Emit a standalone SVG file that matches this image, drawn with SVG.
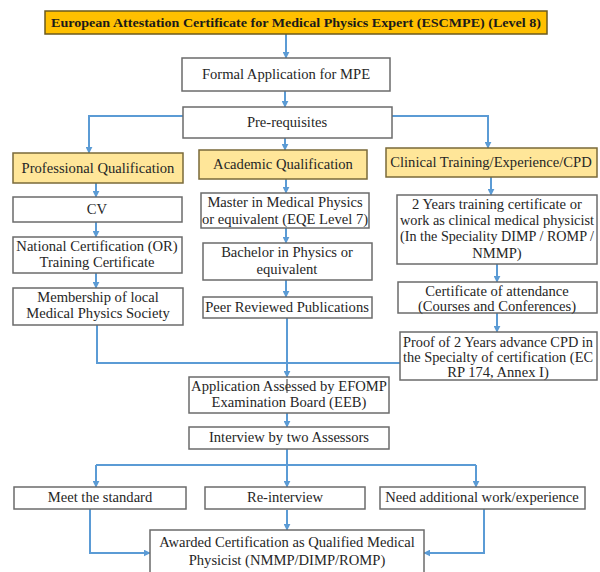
<svg xmlns="http://www.w3.org/2000/svg" width="600" height="572" viewBox="0 0 600 572">
  <defs>
    <marker id="arrow" viewBox="0 0 10 10" refX="9" refY="5" markerWidth="7" markerHeight="7" markerUnits="userSpaceOnUse" orient="auto">
      <path d="M0,0 L10,5 L0,10 z" fill="#5B9BD5"/>
    </marker>
    <style>
      .box { fill: #ffffff; stroke: #6b6b6b; stroke-width: 1.5; }
      .head { fill: #FFC000; stroke: #6b5a1e; stroke-width: 1.5; }
      .cat { fill: #FFE699; stroke: #7a6a3a; stroke-width: 1.5; }
      .t { font-family: "Liberation Serif", "Times New Roman", serif; font-size: 14.6px; fill: #262626; text-anchor: middle; }
      .tb { font-family: "Liberation Serif", "Times New Roman", serif; font-size: 13.5px; font-weight: bold; fill: #1a1a1a; text-anchor: middle; }
      .c { fill: none; stroke: #5B9BD5; stroke-width: 2; }
      .ca { fill: none; stroke: #5B9BD5; stroke-width: 2; marker-end: url(#arrow); }
    </style>
  </defs>

  <rect width="600" height="572" fill="#ffffff"/>

  <!-- connectors -->
  <g id="connectors">
    <line class="ca" x1="286" y1="34" x2="286" y2="58"/>
    <line class="ca" x1="285" y1="91" x2="285" y2="107"/>
    <polyline class="ca" points="183,116 89,116 89,153"/>
    <polyline class="ca" points="392,116 488,116 488,148"/>
    <line class="ca" x1="285" y1="138" x2="285" y2="150"/>

    <line class="ca" x1="96" y1="183" x2="96" y2="197"/>
    <line class="ca" x1="96" y1="222" x2="96" y2="237"/>
    <line class="ca" x1="96" y1="273" x2="96" y2="288"/>

    <line class="ca" x1="286" y1="179" x2="286" y2="193"/>
    <line class="ca" x1="286" y1="228" x2="286" y2="243"/>
    <line class="ca" x1="286" y1="280" x2="286" y2="297"/>

    <line class="ca" x1="491" y1="177" x2="491" y2="195"/>
    <line class="ca" x1="497" y1="264" x2="497" y2="282"/>
    <line class="ca" x1="497" y1="313" x2="497" y2="332"/>

    <polyline class="c" points="97,325 97,363 400,363"/>
    <line class="ca" x1="287" y1="318" x2="287" y2="377"/>
    <line class="ca" x1="287" y1="413" x2="287" y2="427"/>

    <line class="c" x1="287" y1="449" x2="287" y2="465"/>
    <line class="c" x1="96" y1="465" x2="476" y2="465"/>
    <line class="ca" x1="96" y1="465" x2="96" y2="487"/>
    <line class="ca" x1="287" y1="465" x2="287" y2="487"/>
    <line class="ca" x1="476" y1="465" x2="476" y2="487"/>

    <polyline class="ca" points="90,509 90,553 150,553"/>
    <line class="ca" x1="287" y1="510" x2="287" y2="530"/>
    <polyline class="ca" points="484,509 484,553 424,553"/>
  </g>

  <g id="title">
    <rect class="head" x="45" y="11" width="502" height="23"/>
    <text class="tb" x="296" y="27" textLength="490" lengthAdjust="spacingAndGlyphs">European Attestation Certificate for Medical Physics Expert (ESCMPE) (Level 8)</text>
  </g>

  <g id="formal-application">
    <rect class="box" x="182" y="58" width="208" height="33"/>
    <text class="t" x="286" y="79">Formal Application for MPE</text>
  </g>

  <g id="prerequisites">
    <rect class="box" x="183" y="107" width="209" height="31"/>
    <text class="t" x="287" y="127">Pre-requisites</text>
  </g>

  <g id="professional">
    <rect class="cat" x="13" y="153" width="170" height="30"/>
    <text class="t" x="98" y="173">Professional Qualification</text>
  </g>

  <g id="academic">
    <rect class="cat" x="199" y="150" width="168" height="29"/>
    <text class="t" x="283" y="169">Academic Qualification</text>
  </g>

  <g id="clinical">
    <rect class="cat" x="386" y="148" width="211" height="29"/>
    <text class="t" x="491" y="167">Clinical Training/Experience/CPD</text>
  </g>

  <g id="cv">
    <rect class="box" x="13" y="197" width="169" height="25"/>
    <text class="t" x="97" y="214">CV</text>
  </g>

  <g id="national-certification">
    <rect class="box" x="13" y="237" width="169" height="36"/>
    <text class="t" x="97" y="251">National Certification (OR)</text>
    <text class="t" x="97" y="267">Training Certificate</text>
  </g>

  <g id="membership">
    <rect class="box" x="13" y="288" width="170" height="37"/>
    <text class="t" x="98" y="302">Membership of local</text>
    <text class="t" x="98" y="318">Medical Physics Society</text>
  </g>

  <g id="master">
    <rect class="box" x="201" y="193" width="168" height="35"/>
    <text class="t" x="285" y="207">Master in Medical Physics</text>
    <text class="t" x="285" y="224">or equivalent (EQE Level 7)</text>
  </g>

  <g id="bachelor">
    <rect class="box" x="203" y="243" width="169" height="37"/>
    <text class="t" x="287" y="257">Bachelor in Physics or</text>
    <text class="t" x="287" y="274">equivalent</text>
  </g>

  <g id="publications">
    <rect class="box" x="203" y="297" width="169" height="21"/>
    <text class="t" x="287" y="312">Peer Reviewed Publications</text>
  </g>

  <g id="training-certificate">
    <rect class="box" x="397" y="195" width="200" height="69"/>
    <text class="t" x="497" y="209">2 Years training certificate or</text>
    <text class="t" x="497" y="225" textLength="194" lengthAdjust="spacingAndGlyphs">work as clinical medical physicist</text>
    <text class="t" x="497" y="241" textLength="194" lengthAdjust="spacingAndGlyphs">(In the Speciality DIMP / ROMP /</text>
    <text class="t" x="497" y="258">NMMP)</text>
  </g>

  <g id="attendance">
    <rect class="box" x="398" y="282" width="199" height="31"/>
    <text class="t" x="497" y="296">Certificate of attendance</text>
    <text class="t" x="497" y="311">(Courses and Conferences)</text>
  </g>

  <g id="cpd-proof">
    <rect class="box" x="400" y="332" width="197" height="48"/>
    <text class="t" x="498" y="347" textLength="190" lengthAdjust="spacingAndGlyphs">Proof of 2 Years advance CPD in</text>
    <text class="t" x="498" y="362" textLength="190" lengthAdjust="spacingAndGlyphs">the Specialty of certification (EC</text>
    <text class="t" x="498" y="377">RP 174, Annex I)</text>
  </g>

  <g id="assessment">
    <rect class="box" x="189" y="377" width="200" height="36"/>
    <text class="t" x="289" y="391">Application Assessed by EFOMP</text>
    <text class="t" x="289" y="407">Examination Board (EEB)</text>
    <line x1="287" y1="379" x2="287" y2="393" stroke="#3a3a3a" stroke-width="1"/>
  </g>

  <g id="interview">
    <rect class="box" x="189" y="427" width="200" height="22"/>
    <text class="t" x="289" y="442">Interview by two Assessors</text>
  </g>

  <g id="meet-standard">
    <rect class="box" x="14" y="487" width="172" height="22"/>
    <text class="t" x="100" y="502">Meet the standard</text>
  </g>

  <g id="re-interview">
    <rect class="box" x="205" y="487" width="160" height="22"/>
    <text class="t" x="285" y="502">Re-interview</text>
  </g>

  <g id="additional-work">
    <rect class="box" x="380" y="487" width="205" height="22"/>
    <text class="t" x="482" y="502">Need additional work/experience</text>
  </g>

  <g id="awarded">
    <rect class="box" x="150" y="530" width="274" height="50"/>
    <text class="t" x="287" y="547">Awarded Certification as Qualified Medical</text>
    <text class="t" x="287" y="565">Physicist (NMMP/DIMP/ROMP)</text>
  </g>
</svg>
